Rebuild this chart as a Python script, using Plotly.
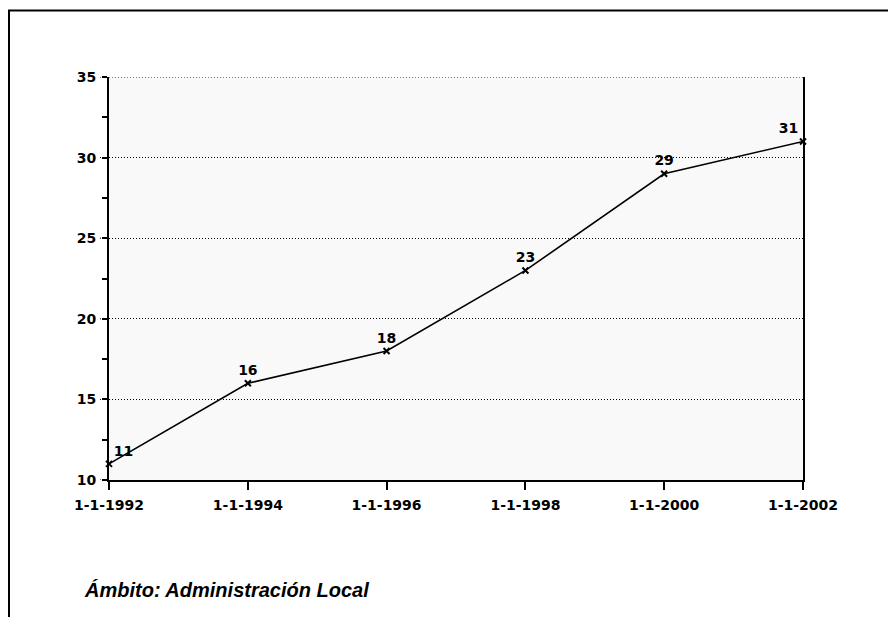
import plotly.graph_objects as go

dates = ["1992-01-01", "1994-01-01", "1996-01-01", "1998-01-01", "2000-01-01", "2002-01-01"]
tick_labels = ["1-1-1992", "1-1-1994", "1-1-1996", "1-1-1998", "1-1-2000", "1-1-2002"]
values = [11, 16, 18, 23, 29, 31]
y_ticks = [10, 15, 20, 25, 30, 35]
caption = "Ámbito: Administración Local"

W, H = 896, 617
L, T = 101, 69
pw, ph = 694, 403
R, B = W - L - pw, H - T - ph

def px(x):
    return (x - L) / pw

def py(y):
    return (T + ph - y) / ph

positions = ["top right"] + ["top center"] * 4 + ["top left"]
DOT = "1px,2px"

fig = go.Figure()
fig.add_trace(go.Scatter(
    x=dates, y=values, mode="lines+markers+text",
    line=dict(color="black", width=1.6),
    marker=dict(symbol="x-thin", size=6, color="black", line=dict(color="black", width=2)),
    text=[str(v) for v in values], textposition=positions,
    textfont=dict(family="DejaVu Sans", size=14, color="black", weight="bold"),
    cliponaxis=False, showlegend=False,
))

shapes = []
# dotted major tick stubs on the y axis (and top dotted border at the last tick)
for v in y_ticks:
    shapes.append(dict(type="line", xref="paper", yref="y", x0=px(L - 9),
                       x1=1 if v == y_ticks[-1] else 0, y0=v, y1=v,
                       line=dict(color="black", width=1, dash=DOT)))
# outer frame (left and top visible)
shapes.append(dict(type="line", xref="paper", yref="paper", x0=px(1), x1=px(1), y0=py(2.5), y1=py(H + 5),
                   line=dict(color="black", width=2)))
shapes.append(dict(type="line", xref="paper", yref="paper", x0=px(0), x1=px(W + 5), y0=py(2.5), y1=py(2.5),
                   line=dict(color="black", width=2)))

fig.update_layout(
    width=W, height=H,
    margin=dict(l=L, r=R, t=T, b=B),
    paper_bgcolor="white", plot_bgcolor="#f9f9f9",
    font=dict(family="DejaVu Sans", size=14, color="black"),
    shapes=shapes,
    annotations=[dict(text=caption, xref="paper", yref="paper", x=px(74), y=py(582),
                      xanchor="left", yanchor="middle", showarrow=False,
                      font=dict(family="Liberation Sans", size=20, color="black", weight="bold", style="italic"))],
)
fig.update_xaxes(
    type="date", range=[dates[0], dates[-1]],
    tickvals=dates, ticktext=tick_labels,
    showgrid=False, zeroline=False,
    showline=True, linecolor="black", linewidth=2,
    ticks="outside", ticklen=8, tickwidth=1.5, tickcolor="black", ticklabelstandoff=3,
    tickfont=dict(family="DejaVu Sans", size=14, color="black", weight="bold"),
)
fig.update_yaxes(
    range=[10, 35], tickvals=y_ticks,
    showgrid=True, gridcolor="black", gridwidth=1, griddash=DOT,
    zeroline=False, showline=True, linecolor="black", linewidth=2, mirror=True,
    ticks="", ticklabelstandoff=8,
    minor=dict(ticks="outside", ticklen=5, tickcolor="black", tickwidth=1.5, dtick=2.5, tick0=10, showgrid=False),
    tickfont=dict(family="DejaVu Sans", size=14, color="black", weight="bold"),
)
fig.write_html("out.html")
